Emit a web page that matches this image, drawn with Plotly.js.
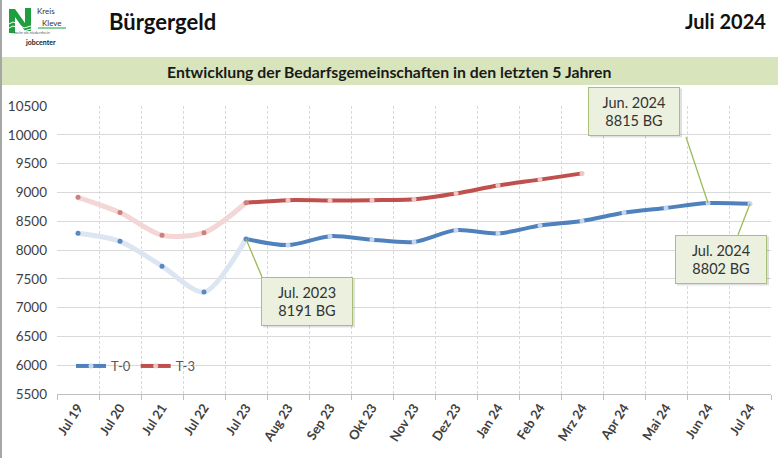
<!DOCTYPE html>
<html>
<head>
<meta charset="utf-8">
<script src="https://cdn.plot.ly/plotly-3.0.1.min.js"></script>
<style>
  html, body { margin: 0; padding: 0; background: #ffffff; }
  #chart { width: 778px; height: 458px; }
</style>
</head>
<body>
<div id="chart"></div>
<script>
// ---- data ----
const months = ["Jul 19","Jul 20","Jul 21","Jul 22","Jul 23","Aug 23","Sep 23","Okt 23","Nov 23","Dez 23","Jan 24","Feb 24","Mrz 24","Apr 24","Mai 24","Jun 24","Jul 24"];
const t0 = [8290, 8150, 7720, 7270, 8191, 8085, 8240, 8180, 8140, 8345, 8288, 8425, 8505, 8645, 8730, 8815, 8802];
const t3 = [8915, 8650, 8255, 8300, 8820, 8865, 8860, 8865, 8880, 8980, 9120, 9222, 9330];
const seriesNames = ["T-0", "T-3"];
const yTicks = [5500, 6000, 6500, 7000, 7500, 8000, 8500, 9000, 9500, 10000, 10500];
const calloutIdx = [4, 15, 16];
const calloutLabel = ["Jul. 2023", "Jun. 2024", "Jul. 2024"];
const splitIdx = 4; // Jul 23: start of the recent (solid) period

const FONT = "Lato, 'Open Sans', 'DejaVu Sans', sans-serif";
const W = 778, H = 458, L = 57, R = 7, T = 106, B = 64;
const PW = W - L - R, PH = H - T - B;
const px = v => (v - L) / PW;
const py = v => (H - B - v) / PH;

function pathFrom(pts, close) {
  return pts.map((p, i) => (i ? "L" : "M") + px(p[0]).toFixed(5) + "," + py(p[1]).toFixed(5)).join(" ") + (close ? " Z" : "");
}

const blue = "#4f81bd", red = "#c0504d";

const traces = [
  { // T-0 recent
    x: months.slice(splitIdx), y: t0.slice(splitIdx), name: seriesNames[0],
    type: "scatter", mode: "lines+markers",
    line: { color: blue, width: 4, shape: "spline", smoothing: 0.8 },
    marker: { color: "#c6d6ec", size: 5 }, legendrank: 1
  },
  { // T-3 recent
    x: months.slice(splitIdx, t3.length), y: t3.slice(splitIdx), name: seriesNames[1],
    type: "scatter", mode: "lines+markers",
    line: { color: red, width: 4, shape: "spline", smoothing: 0.8 },
    marker: { color: "#f0c6c5", size: 5 }, legendrank: 2
  },
  { // T-0 history (faded)
    x: months.slice(0, splitIdx + 1), y: t0.slice(0, splitIdx + 1), name: seriesNames[0],
    type: "scatter", mode: "lines+markers", showlegend: false,
    line: { color: "#dce6f2", width: 5, shape: "spline", smoothing: 0.8 },
    marker: { color: "#5b88c2", size: 5 }
  },
  { // T-3 history (faded)
    x: months.slice(0, splitIdx + 1), y: t3.slice(0, splitIdx + 1), name: seriesNames[1],
    type: "scatter", mode: "lines+markers", showlegend: false,
    line: { color: "#f3d7d6", width: 5, shape: "spline", smoothing: 0.8 },
    marker: { color: "#cc7f7d", size: 5 }
  }
];

// ---- header / decoration shapes ----
const shapes = [
  // green band
  { type: "rect", xref: "paper", yref: "paper", x0: px(0), x1: px(W), y0: py(85), y1: py(57),
    fillcolor: "#d8e4bc", line: { width: 0 }, layer: "below" },
  // left border
  { type: "line", xref: "paper", yref: "paper", x0: px(1), x1: px(1), y0: py(0), y1: py(H),
    line: { color: "#a6a6a6", width: 2 } },
  // logo N
  { type: "path", xref: "paper", yref: "paper",
    path: pathFrom([[9,33],[9,9],[15,9],[25,23],[25,8],[31,8],[31,31],[25,31],[15,17],[15,33]], true),
    fillcolor: "#1e9e3e", line: { width: 0 } },
  { type: "path", xref: "paper", yref: "paper",
    path: pathFrom([[9,24],[13,22],[18,24],[24,28],[31,26]], false),
    line: { color: "#ffffff", width: 1 } },
  { type: "path", xref: "paper", yref: "paper",
    path: pathFrom([[9,28],[13,26],[18,28],[24,31],[31,29]], false),
    line: { color: "#ffffff", width: 1 } },
  { type: "line", xref: "paper", yref: "paper", x0: px(38), x1: px(66), y0: py(28), y1: py(28),
    line: { color: "#1e9e3e", width: 1 } }
];

// callout boxes (pixel centers of boxes) and connectors
const boxes = [
  { cx: 307, cy: 301, dx: 16, dy: 38 },
  { cx: 634, cy: 111, dx: -22, dy: -66 },
  { cx: 721, cy: 259, dx: -12, dy: 31 }
];
const bw = 92, bh = 49;
boxes.forEach((b, i) => {
  shapes.push({ type: "rect", xref: "paper", yref: "paper",
    x0: px(b.cx - bw/2 + 2), x1: px(b.cx + bw/2 + 2), y0: py(b.cy + bh/2 + 2), y1: py(b.cy - bh/2 + 2),
    fillcolor: "rgba(0,0,0,0.12)", line: { width: 0 }, layer: "above" });
  const k = calloutIdx[i];
  shapes.push({ type: "line", xref: "x", yref: "y",
    xsizemode: "pixel", ysizemode: "pixel", xanchor: k, yanchor: t0[k],
    x0: 0, y0: 0, x1: b.dx, y1: -b.dy,
    line: { color: "#9bbb59", width: 1.3 }, layer: "above" });
});

const annotations = [
  { xref: "paper", yref: "paper", x: px(107), y: py(21), xanchor: "left", yanchor: "middle",
    text: "<b>Bürgergeld</b>", showarrow: false, font: { family: FONT, size: 22, color: "#111111" } },
  { xref: "paper", yref: "paper", x: px(768), y: py(21), xanchor: "right", yanchor: "middle",
    text: "<b>Juli 2024</b>", showarrow: false, font: { family: FONT, size: 20, color: "#111111" } },
  { xref: "paper", yref: "paper", x: px(389), y: py(71), xanchor: "center", yanchor: "middle",
    text: "<b>Entwicklung der Bedarfsgemeinschaften in den letzten 5 Jahren</b>", showarrow: false,
    font: { family: FONT, size: 15.8, color: "#1a1a1a" } },
  // logo texts
  { xref: "paper", yref: "paper", x: px(35), y: py(11), xanchor: "left", yanchor: "middle",
    text: "Kreis", showarrow: false, font: { family: FONT, size: 8, color: "#333333" } },
  { xref: "paper", yref: "paper", x: px(40), y: py(23), xanchor: "left", yanchor: "middle",
    text: "Kleve", showarrow: false, font: { family: FONT, size: 8, color: "#333333" } },
  { xref: "paper", yref: "paper", x: px(9), y: py(33), xanchor: "left", yanchor: "middle",
    text: "...mehr als niederrhein", showarrow: false, font: { family: FONT, size: 4, color: "#555555" } },
  { xref: "paper", yref: "paper", x: px(23), y: py(42), xanchor: "left", yanchor: "middle",
    text: "<b>jobcenter</b>", showarrow: false, font: { family: FONT, size: 7, color: "#222222" } }
];
boxes.forEach((b, i) => {
  const k = calloutIdx[i];
  annotations.push({ xref: "paper", yref: "paper", x: px(b.cx), y: py(b.cy),
    xanchor: "center", yanchor: "middle", showarrow: false,
    text: calloutLabel[i] + "<br>" + t0[k] + " BG",
    width: bw - 4, height: bh - 4, align: "center", valign: "middle",
    bgcolor: "#ebf1de", bordercolor: "#a9bf78", borderwidth: 1, borderpad: 1,
    font: { family: FONT, size: 14.5, color: "#333333" } });
});

const layout = {
  width: W, height: H,
  margin: { l: L, r: R, t: T, b: B },
  paper_bgcolor: "#ffffff", plot_bgcolor: "#ffffff",
  font: { family: FONT, color: "#404040" },
  showlegend: true,
  legend: { orientation: "h", x: px(71), y: py(366), xanchor: "left", yanchor: "middle",
    bgcolor: "rgba(0,0,0,0)", font: { family: FONT, size: 13, color: "#595959" },
    itemwidth: 30, traceorder: "normal" },
  xaxis: {
    type: "category", categoryorder: "array", categoryarray: months,
    range: [-0.5, months.length - 0.5], tickson: "boundaries",
    showgrid: true, gridcolor: "#d9d9d9", griddash: "3px,2px", gridwidth: 1,
    showline: true, linecolor: "#bfbfbf", linewidth: 1,
    ticks: "outside", ticklen: 5, tickcolor: "#bfbfbf",
    tickangle: -57, tickfont: { family: FONT, size: 13, color: "#404040", weight: "bold" },
    zeroline: false, fixedrange: true
  },
  yaxis: {
    range: [5500, 10500], tickvals: yTicks, ticktext: yTicks.map(String),
    showgrid: true, gridcolor: "#d9d9d9", gridwidth: 1,
    showline: false, zeroline: false, ticks: "", ticklabelstandoff: 9,
    tickfont: { family: FONT, size: 13.5, color: "#404040" }, fixedrange: true
  },
  shapes: shapes,
  annotations: annotations
};

Plotly.newPlot("chart", traces, layout, { displayModeBar: false, staticPlot: true });
</script>
</body>
</html>
